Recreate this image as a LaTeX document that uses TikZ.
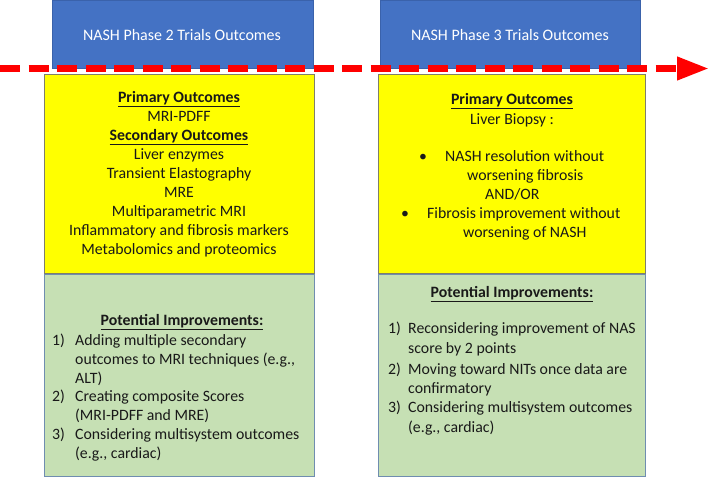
\documentclass[tikz,border=0pt]{standalone}
\usepackage{fontspec}
\setmainfont{Carlito}
\usetikzlibrary{arrows.meta}
\definecolor{hdrblue}{HTML}{4472C4}
\definecolor{hdrline}{HTML}{3A62AB}
\definecolor{ybox}{HTML}{FFFF00}
\definecolor{yline}{HTML}{7F7F6A}
\definecolor{gbox}{HTML}{C6E0B4}
\definecolor{gline}{HTML}{6F8DB0}
\definecolor{arrred}{HTML}{FF0000}
\begin{document}
\begin{tikzpicture}[x=1pt,y=-1pt,
  hdr/.style={draw=hdrline,fill=hdrblue,line width=0.8pt,anchor=north west,inner sep=0pt},
  ybx/.style={draw=yline,fill=ybox,line width=0.8pt,anchor=north west,inner sep=0pt},
  gbx/.style={draw=gline,fill=gbox,line width=0.8pt,anchor=north west,inner sep=0pt},
  txt/.style={inner sep=0pt,font=\fontsize{15.8}{19}\selectfont,anchor=base,text=black!90},
  txtl/.style={txt,anchor=base west},
  hdrtxt/.style={txt,text=white,font=\fontsize{16}{19}\selectfont},
  timeline/.style={draw=arrred,line width=7pt,dash pattern=on 20pt off 8.5pt,
    -{Triangle[length=32pt,width=22pt]}}]
\useasboundingbox (0,0) rectangle (709,477);
% header boxes
\node[hdr,minimum width=261pt,minimum height=68pt] (h1) at (52,0) {};
\node[hdr,minimum width=260pt,minimum height=68pt] (h2) at (380,0) {};
\node[hdrtxt] (h1t) at (182,40.5) {NASH Phase 2 Trials Outcomes};
\node[hdrtxt] (h2t) at (510,40.5) {NASH Phase 3 Trials Outcomes};
% yellow boxes
\node[ybx,minimum width=270pt,minimum height=199pt] (y1) at (44,74) {};
\node[ybx,minimum width=267pt,minimum height=199pt] (y2) at (378,74) {};
% green boxes
\node[gbx,minimum width=270pt,minimum height=202pt] (g1) at (44,274) {};
\node[gbx,minimum width=267pt,minimum height=202pt] (g2) at (378,274) {};
% left yellow text
\node[txt] (a1) at (179,102) {\textbf{\underline{Primary Outcomes}}};
\node[txt] (a2) at (179,121) {MRI-PDFF};
\node[txt] (a3) at (179,140) {\textbf{\underline{Secondary Outcomes}}};
\node[txt] (a4) at (179,159) {Liver enzymes};
\node[txt] (a5) at (179,178) {Transient Elastography};
\node[txt] (a6) at (179,197) {MRE};
\node[txt] (a7) at (179,216) {Multiparametric MRI};
\node[txt] (a8) at (179,235) {Inflammatory and fibrosis markers};
\node[txt] (a9) at (179,254) {Metabolomics and proteomics};
% right yellow text
\node[txt] (b1) at (512,104) {\textbf{\underline{Primary Outcomes}}};
\node[txt] (b2) at (512,124) {Liver Biopsy :};
\node[txt] (b3b) at (423,161) {•};
\node[txtl] (b3) at (445,161) {NASH resolution without};
\node[txtl] (b4) at (467,180) {worsening fibrosis};
\node[txtl] (b5) at (485,199) {AND/OR};
\node[txt] (b6b) at (405,218) {•};
\node[txtl] (b6) at (427,218) {Fibrosis improvement without};
\node[txtl] (b7) at (463,237) {worsening of NASH};
% left green text
\node[txt] (c0) at (182,325) {\textbf{\underline{Potential Improvements:}}};
\node[txtl] (c1n) at (52,345) {1)};
\node[txtl] (c1) at (75,345) {Adding multiple secondary};
\node[txtl] (c1a) at (75,364) {outcomes to MRI techniques (e.g.,};
\node[txtl] (c1b) at (75,383) {ALT)};
\node[txtl] (c2n) at (52,401) {2)};
\node[txtl] (c2) at (75,401) {Creating composite Scores};
\node[txtl] (c2a) at (75,420) {(MRI-PDFF and MRE)};
\node[txtl] (c3n) at (52,439) {3)};
\node[txtl] (c3) at (75,439) {Considering multisystem outcomes};
\node[txtl] (c3a) at (75,458) {(e.g., cardiac)};
% right green text
\node[txt] (d0) at (512,297) {\textbf{\underline{Potential Improvements:}}};
\node[txtl] (d1n) at (388,333) {1)};
\node[txtl] (d1) at (408,333) {Reconsidering improvement of NAS};
\node[txtl] (d1a) at (408,353) {score by 2 points};
\node[txtl] (d2n) at (388,374) {2)};
\node[txtl] (d2) at (408,374) {Moving toward NITs once data are};
\node[txtl] (d2a) at (408,393) {confirmatory};
\node[txtl] (d3n) at (388,412) {3)};
\node[txtl] (d3) at (408,412) {Considering multisystem outcomes};
\node[txtl] (d3a) at (408,432) {(e.g., cardiac)};
% timeline arrow
\coordinate (tstart) at (0,68.5);
\coordinate (tend) at (709,68.5);
\draw[timeline] (tstart) -- (tend);
\end{tikzpicture}
\end{document}
